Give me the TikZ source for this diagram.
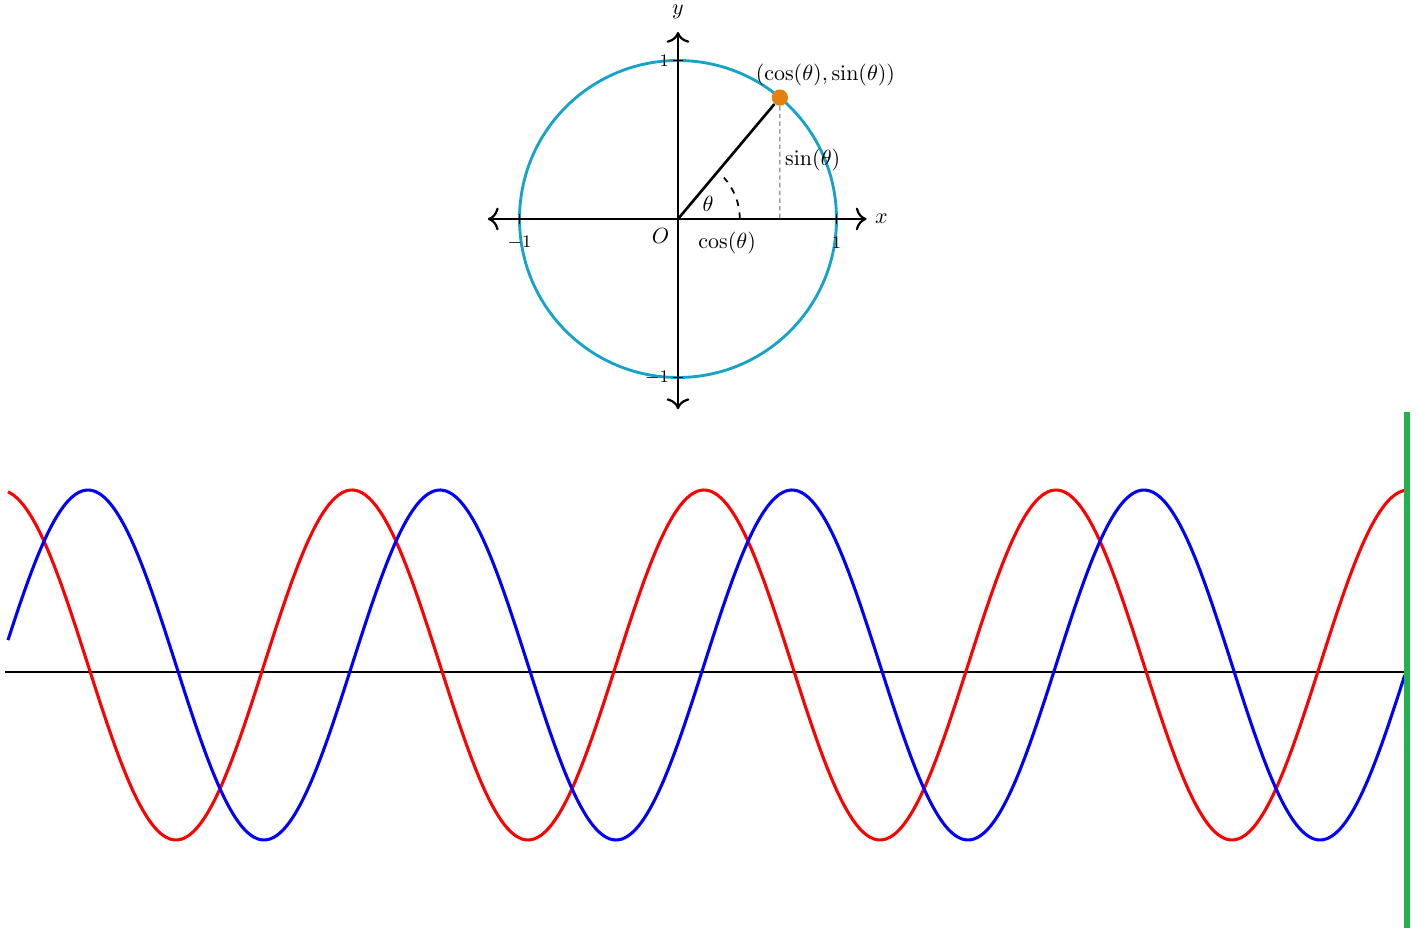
\documentclass[tikz,border=0pt]{standalone}
\usepackage{amsmath, amssymb}
\usepackage{tikz}
\usetikzlibrary{arrows,arrows.meta}
\usepackage{xcolor}
\definecolor{circle-blue}{RGB}{22,163,201}
\definecolor{point-orange}{RGB}{228,128,18}
\definecolor{edge-green}{RGB}{34,177,76}
\tikzstyle{axis}=[line width=1pt,{To[scale=1.3]}-{To[scale=1.3]}]
\tikzstyle{tick}=[thin]
\tikzstyle{ticklabel}=[font=\footnotesize,inner sep=1pt]
\tikzstyle{wave}=[line width=1.4pt]

\begin{document}
\begin{tikzpicture}[x=1.6cm,y=1.6cm]
	\useasboundingbox (0,0) rectangle (14.16,9.34);
	% unit circle
	\begin{scope}[shift={(6.78,7.15)},scale=1.585]
		\coordinate (O) at (0,0);
		\draw[circle-blue, line width=1.3pt] (O) circle (1);
		\draw[axis] (-1.2,0) -- (1.19,0) node[right] (xlab) {$x$};
		\draw[axis] (0,-1.2) -- (0,1.18) node[above,yshift=2pt] (ylab) {$y$};
		\foreach \t in {-1,1} {
			\draw[tick] (\t,-.03) -- (\t,.03);
			\draw[tick] (-.03,\t) -- (.03,\t);
		}
		\node[ticklabel] at (1,-.15) {$1$};
		\node[ticklabel] at (-1,-.15) {$-1$};
		\node[ticklabel,anchor=east] at (-.04,1) {$1$};
		\node[ticklabel,anchor=east] at (-.04,-1) {$-1$};
		\node[circle, fill=point-orange, inner sep=0pt, minimum size=0.26cm] (P) at (50:1) {};
		\draw[very thick] (O) -- (P);
		\draw[dashed, thin, gray!80!black, dash pattern=on 2pt off 1.5pt] (P) -- (P |- O);
		\draw[thick, dashed] (.39,0) arc (0:42:.39);
		\node (olab) at (-.11,-.11) {$O$};
		\node (coslab) at (.31,-.15) {$\cos(\theta)$};
		\node (sinlab) at (.85,.37) {$\sin(\theta)$};
		\node (thlab) at (.19,.095) {$\theta$};
		\node (plab) at (.93,.91) {$(\cos(\theta),\sin(\theta))$};
	\end{scope}
	% waves
	\coordinate (A) at (0.05,2.62);
	\coordinate (B) at (14.1,2.62);
	\draw[line width=1.2pt] (A) -- (B);
	\draw[wave, red] plot[domain=0.08:14.05, samples=240, smooth] (\x,{2.69+1.75*cos(360*\x/3.52)});
	\draw[wave, blue] plot[domain=0.08:14.05, samples=240, smooth] (\x,{2.69+1.75*sin(360*\x/3.52)});
	\coordinate (G1) at (14.07,5.22);
	\coordinate (G2) at (14.07,0.06);
	\draw[edge-green, line width=2.8pt] (G1) -- (G2);
\end{tikzpicture}
\end{document}
